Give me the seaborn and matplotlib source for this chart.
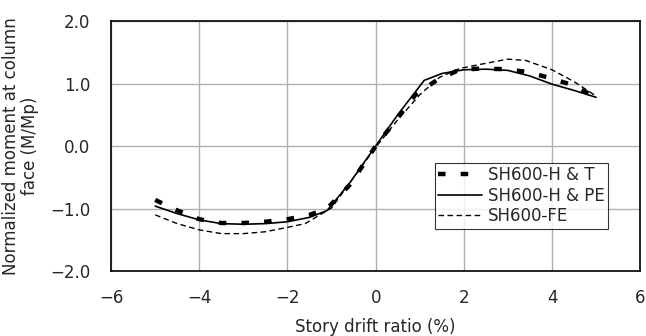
import pandas as pd
import seaborn as sns
import matplotlib.pyplot as plt

# values
ht_x = [-5.0, -4.6, -4.0, -3.5, -3.0, -2.5, -2.0, -1.5, -1.1, -0.6, -0.3, 0.0, 0.4, 0.9, 1.4, 1.9, 2.4, 2.9, 3.4, 3.9, 4.4, 4.95]
ht_y = [-0.86, -1.00, -1.17, -1.23, -1.23, -1.21, -1.17, -1.10, -1.00, -0.63, -0.32, 0.0, 0.36, 0.82, 1.06, 1.22, 1.24, 1.23, 1.19, 1.10, 0.99, 0.80]
pe_x = [-5.0, -4.5, -4.0, -3.5, -3.0, -2.5, -2.0, -1.5, -1.1, -0.6, 0.0, 0.5, 1.1, 1.5, 2.0, 2.5, 3.0, 3.5, 4.0, 4.5, 5.0]
pe_y = [-0.96, -1.08, -1.18, -1.24, -1.25, -1.24, -1.21, -1.14, -1.03, -0.60, 0.0, 0.50, 1.05, 1.16, 1.22, 1.23, 1.21, 1.12, 0.99, 0.89, 0.78]
fe_x = [-5.0, -4.5, -4.0, -3.5, -3.0, -2.5, -2.0, -1.6, -1.0, -0.6, 0.0, 0.5, 1.0, 1.45, 1.9, 2.4, 3.0, 3.4, 4.0, 4.5, 5.0]
fe_y = [-1.10, -1.24, -1.34, -1.40, -1.40, -1.37, -1.30, -1.24, -0.99, -0.60, -0.02, 0.42, 0.82, 1.10, 1.24, 1.31, 1.39, 1.37, 1.22, 1.03, 0.80]

labels = ["SH600-H & T", "SH600-H & PE", "SH600-FE"]
xticks = [-6, -4, -2, 0, 2, 4, 6]
yticks = [-2.0, -1.0, 0.0, 1.0, 2.0]

sns.set_style("white")
plt.rcParams['font.family'] = ['DejaVu Sans']

fig, ax = plt.subplots(figsize=(6.46, 3.36), dpi=100)
fig.subplots_adjust(left=0.172, right=0.991, top=0.9375, bottom=0.193)

ax.grid(True, color="#b0b0b0", linewidth=1.0)
ax.set_axisbelow(True)

sns.lineplot(x=ht_x, y=ht_y, ax=ax, color="black", linewidth=3.2, sort=False,
             label=labels[0])
sns.lineplot(x=pe_x, y=pe_y, ax=ax, color="black", linewidth=1.2, sort=False,
             label=labels[1])
sns.lineplot(x=fe_x, y=fe_y, ax=ax, color="black", linewidth=1.0, sort=False,
             label=labels[2])
ax.lines[0].set_dashes((1.7, 3.4))
ax.lines[2].set_dashes((4, 2.5))

ax.set_xlim(-6, 6)
ax.set_ylim(-2, 2)
ax.set_xticks(xticks)
ax.set_xticklabels([f"{t}".replace("-", "\u2212") for t in xticks])
ax.set_yticks(yticks)
ax.set_yticklabels([f"{t:.1f}".replace("-", "\u2212") for t in yticks])
ax.tick_params(axis="y", labelsize=12, pad=15, length=0)
ax.tick_params(axis="x", labelsize=12, pad=13, length=0)

for s in ax.spines.values():
    s.set_color("black")
    s.set_linewidth(1.2)

ax.set_xlabel("Story drift ratio (%)", fontsize=12, labelpad=8)
ax.set_ylabel("Normalized moment at column\nface (M/Mp)", fontsize=12, labelpad=8,
              linespacing=1.1)

leg = ax.legend(loc="lower right", bbox_to_anchor=(0.94, 0.17), frameon=True,
                fancybox=False, fontsize=12, handlelength=2.6, handletextpad=0.4,
                borderpad=0.2, labelspacing=0.15, borderaxespad=0)
leg.get_frame().set_edgecolor("black")
leg.get_frame().set_linewidth(0.8)

fig.savefig("out.png", dpi=100)
